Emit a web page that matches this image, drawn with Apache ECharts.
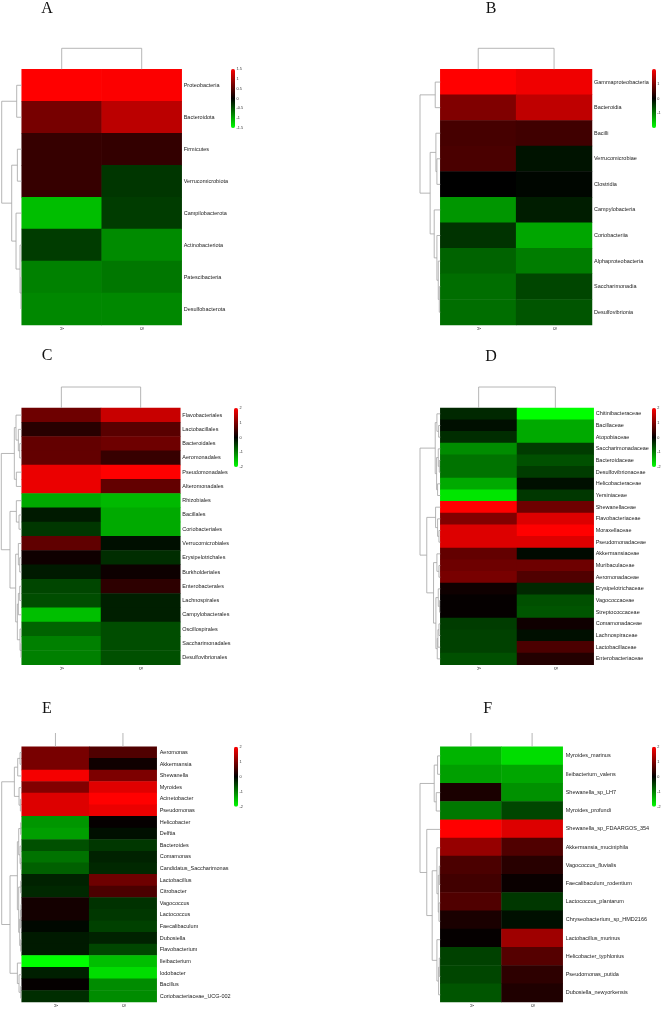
<!DOCTYPE html>
<html><head><meta charset="utf-8">
<script src="https://cdn.jsdelivr.net/npm/echarts@6/dist/echarts.min.js"></script>
<style>html,body{margin:0;padding:0;background:#fff}#c{width:662px;height:1010px}</style>
</head><body><div id="c"></div>
<script>
const samples = ['A', 'B'];

// ---- Panel A (phylum)
const aRows = ['Proteobacteria','Bacteroidota','Firmicutes','Verrucomicrobiota','Campilobacterota','Actinobacteriota','Patescibacteria','Desulfobacterota'];
const aValA = [1.5, 0.7, 0.32, 0.32, -1.12, -0.35, -0.76, -0.8];
const aValB = [1.48, 1.1, 0.3, -0.32, -0.35, -0.82, -0.7, -0.8];
const aRowTree = [[6,7,2],[5,8,5],[4,9,17],[2,3,13],[11,10,30],[0,1,15],[13,12,60]];
const aColTree = [[0,1,21]];
const aTicks = [1.5, 1, 0.5, 0, -0.5, -1, -1.5];

// ---- Panel B (class)
const bRows = ['Gammaproteobacteria','Bacteroidia','Bacilli','Verrucomicrobiae','Clostridia','Campylobacteria','Coriobacteriia','Alphaproteobacteria','Saccharimonadia','Desulfovibrionia'];
const bValA = [2.0, 1.0, 0.55, 0.58, 0.0, -1.18, -0.4, -0.78, -0.86, -0.86];
const bValB = [1.88, 1.5, 0.5, -0.15, -0.05, -0.23, -1.3, -0.98, -0.55, -0.67];
const bRowTree = [[3,4,10],[2,10,13],[8,9,3],[7,12,6],[6,13,10],[5,14,18],[11,15,30],[0,1,15],[17,16,60]];
const bColTree = [[0,1,21]];
const bTicks = [1, 0, -1];

// ---- Panel C (order)
const cRows = ['Flavobacteriales','Lactobacillales','Bacteroidales','Aeromonadales','Pseudomonadales','Alteromonadales','Rhizobiales','Bacillales','Coriobacteriales','Verrucomicrobiales','Erysipelotrichales','Burkholderiales','Enterobacterales','Lachnospirales','Campylobacterales','Oscillospirales','Saccharimonadales','Desulfovibrionales'];
const cValA = [0.86, 0.31, 0.78, 0.78, 1.84, 1.84, -1.33, -0.2, -0.43, 0.75, 0.12, -0.2, -0.55, -0.6, -1.5, -0.78, -1.0, -1.0];
const cValB = [1.57, 0.7, 0.86, 0.43, 2.0, 0.78, -1.45, -1.33, -1.33, -0.12, -0.35, 0.1, 0.35, -0.24, -0.24, -0.6, -0.6, -0.63];
const cRowTree = [[2,3,6],[1,18,10],[0,19,17],[4,5,16],[20,21,22],[7,8,8],[6,23,16],[10,11,6],[9,25,10],[12,13,6],[27,14,10],[16,17,2],[15,29,5],[28,30,13],[26,31,18],[24,32,35],[22,33,61]];
const cColTree = [[0,1,21]];
const cTicks = [2, 1, 0, -1, -2];

// ---- Panel D (family)
const dRows = ['Chitinibacteraceae','Bacillaceae','Atopobiaceae','Saccharimonadaceae','Bacteroidaceae','Desulfovibrionaceae','Helicobacteraceae','Yersiniaceae','Shewanellaceae','Flavobacteriaceae','Moraxellaceae','Pseudomonadaceae','Akkermansiaceae','Muribaculaceae','Aeromonadaceae','Erysipelotrichaceae','Vagococcaceae','Streptococcaceae','Comamonadaceae','Lachnospiraceae','Lactobacillaceae','Enterobacteriaceae'];
const dValA = [-0.31, -0.12, -0.35, -1.1, -0.9, -0.9, -1.33, -1.8, 2.0, 1.02, 1.73, 1.73, 0.78, 0.86, 0.94, 0.12, 0.04, 0.04, -0.47, -0.51, -0.51, -0.63];
const dValB = [-2.0, -1.33, -1.33, -0.47, -0.63, -0.47, -0.12, -0.43, 0.86, 1.73, 2.0, 1.73, -0.08, 0.86, 0.63, -0.31, -0.63, -0.67, 0.12, -0.12, 0.59, 0.27];
const dRowTree = [[1,2,5],[0,22,10],[4,5,3],[3,24,6],[6,7,8],[25,26,11],[23,27,15],[10,11,4],[9,29,8],[8,30,14],[13,14,4],[12,32,10],[16,17,2],[15,34,6],[18,19,4],[36,20,7],[37,21,9],[35,38,13],[33,39,20],[31,40,40],[28,41,60]];
const dColTree = [[0,1,21]];
const dTicks = [2, 1, 0, -1, -2];

// ---- Panel E (genus)
const eRows = ['Aeromonas','Akkermansia','Shewanella','Myroides','Acinetobacter','Pseudomonas','Helicobacter','Delftia','Bacteroides','Comamonas','Candidatus_Saccharimonas','Lactobacillus','Citrobacter','Vagococcus','Lactococcus','Faecalibaculum','Dubosiella','Flavobacterium','Ileibacterium','Iodobacter','Bacillus','Coriobacteriaceae_UCG-002'];
const eValA = [0.94, 0.94, 1.92, 1.02, 1.73, 1.73, -1.18, -1.25, -0.63, -0.9, -0.75, -0.27, -0.31, 0.16, 0.16, -0.06, -0.2, -0.2, -2.0, -0.24, 0.04, -0.35];
const eValB = [0.63, 0.12, 0.98, 1.76, 2.0, 1.84, 0.04, -0.12, -0.43, -0.27, -0.31, 0.86, 0.59, -0.39, -0.43, -0.51, -0.27, -0.55, -1.5, -1.73, -1.1, -1.1];
const eRowTree = [[0,1,5],[22,2,12],[4,5,4],[3,24,8],[23,25,22],[6,7,3],[9,10,2],[8,28,5],[27,29,9],[11,12,3],[13,14,2],[32,15,4],[16,17,3],[33,34,6],[31,35,9],[30,36,13],[20,21,3],[19,38,8],[18,39,13],[37,40,35],[26,41,60]];
const eColTree = [[0,1,40]];
const eTicks = [2, 1, 0, -1, -2];

// ---- Panel F (species)
const fRows = ['Myroides_marinus','Ileibacterium_valens','Shewanella_sp_LH7','Myroides_profundi','Shewanella_sp_FDAARGOS_354','Akkermansia_muciniphila','Vagococcus_fluvialis','Faecalibaculum_rodentium','Lactococcus_plantarum','Chryseobacterium_sp_HMD2166','Lactobacillus_murinus','Helicobacter_typhlonius','Pseudomonas_putida','Dubosiella_newyorkensis'];
const fValA = [-1.41, -1.25, 0.2, -0.94, 2.0, 1.18, 0.59, 0.51, 0.63, 0.2, 0.04, -0.51, -0.55, -0.67];
const fValB = [-1.73, -1.3, -1.14, -0.55, 1.73, 0.63, 0.31, 0.08, -0.43, -0.12, 1.25, 0.67, 0.35, 0.24];
const fRowTree = [[0,1,8],[2,3,12],[14,15,18],[6,7,3],[8,9,4],[17,18,6],[5,19,10],[11,12,3],[21,13,5],[10,22,10],[20,23,24],[4,24,40],[16,25,60]];
const fColTree = [[0,1,40]];
const fTicks = [2, 1, 0, -1, -2];

// ---------- layout (pixels)
const panels = [
  {title:'A', rows:aRows, va:aValA, vb:aValB, tree:aRowTree, ctree:aColTree, ticks:aTicks, range:1.5, step:0.5,
   L:{hx:21.7, hy:69.3, hw:160, hh:255.7, dl:1.7, cy:48.3, cmax:21, bx:231, by:69, bh:59, tx:41.2, ty:1, lm:2}},
  {title:'B', rows:bRows, va:bValA, vb:bValB, tree:bRowTree, ctree:bColTree, ticks:bTicks, range:2, step:1,
   L:{hx:440.3, hy:69.3, hw:151.7, hh:255.7, dl:420, cy:48.3, cmax:21, bx:652, by:69, bh:59, tx:485.7, ty:1, lm:2}},
  {title:'C', rows:cRows, va:cValA, vb:cValB, tree:cRowTree, ctree:cColTree, ticks:cTicks, range:2, step:1,
   L:{hx:21.7, hy:408, hw:158.6, hh:256.7, dl:1.3, cy:387, cmax:21, bx:234, by:408, bh:59, tx:41.7, ty:348, lm:2}},
  {title:'D', rows:dRows, va:dValA, vb:dValB, tree:dRowTree, ctree:dColTree, ticks:dTicks, range:2, step:1,
   L:{hx:440.3, hy:408, hw:153.4, hh:256.7, dl:420, cy:387, cmax:21, bx:652, by:408, bh:59, tx:485.2, ty:349, lm:2}},
  {title:'E', rows:eRows, va:eValA, vb:eValB, tree:eRowTree, ctree:eColTree, ticks:eTicks, range:2, step:1,
   L:{hx:21.7, hy:746.7, hw:135, hh:257.3, dl:1.7, cy:733, cmax:13.7, bx:234, by:746.7, bh:60, tx:42.1, ty:701, lm:3}},
  {title:'F', rows:fRows, va:fValA, vb:fValB, tree:fRowTree, ctree:fColTree, ticks:fTicks, range:2, step:1,
   L:{hx:440.3, hy:746.7, hw:122.4, hh:257.3, dl:420, cy:733, cmax:13.7, bx:652, by:746.7, bh:60, tx:483.3, ty:701, lm:3}}
];

function dendro(n, merges) {
  const pos = [], ht = [], segs = [];
  for (let i = 0; i < n; i++) { pos[i] = i; ht[i] = 0; }
  merges.forEach((m, k) => {
    const [a, b, h] = m, id = n + k;
    segs.push([ht[a], pos[a], h, pos[a]], [h, pos[a], h, pos[b]], [ht[b], pos[b], h, pos[b]]);
    pos[id] = (pos[a] + pos[b]) / 2; ht[id] = h;
  });
  return segs;
}

const LINE = '#a3a3a3';
function renderSeg(params, api) {
  const p1 = api.coord([api.value(0), api.value(1)]);
  const p2 = api.coord([api.value(2), api.value(3)]);
  return {type:'line', shape:{x1:p1[0], y1:p1[1], x2:p2[0], y2:p2[1]}, style:{stroke:LINE, lineWidth:0.8}};
}

const option = {animation:false, backgroundColor:'#fff', title:[], grid:[], xAxis:[], yAxis:[], series:[], visualMap:[]};
const FONT = 'Liberation Sans';

panels.forEach((P, p) => {
  const L = P.L, n = P.rows.length, g = 4 * p;
  const rootH = P.tree[P.tree.length - 1][2];
  option.title.push({text:P.title, left:L.tx, top:L.ty, padding:0,
    textStyle:{fontFamily:'Liberation Serif', fontSize:16, fontWeight:'normal', color:'#111'}});
  // heatmap grid
  option.grid.push({left:L.hx, top:L.hy, width:L.hw, height:L.hh});
  option.xAxis.push({type:'category', gridIndex:g, data:samples, axisLine:{show:false}, axisTick:{show:false},
    axisLabel:{rotate:-90, fontSize:4.5, margin:2, color:'#444', fontFamily:FONT}, splitLine:{show:false}});
  option.yAxis.push({type:'category', gridIndex:g, data:P.rows, inverse:true, position:'right', axisLine:{show:false}, axisTick:{show:false},
    axisLabel:{fontSize:5.5, margin:L.lm, color:'#222', fontFamily:FONT}, splitLine:{show:false}});
  // row dendrogram grid
  option.grid.push({left:L.dl, top:L.hy, width:L.hx - L.dl, height:L.hh});
  option.xAxis.push({type:'value', gridIndex:g+1, min:0, max:rootH, inverse:true, show:false});
  option.yAxis.push({type:'value', gridIndex:g+1, min:-0.5, max:n - 0.5, inverse:true, show:false});
  // column dendrogram grid
  option.grid.push({left:L.hx, top:L.cy, width:L.hw, height:L.hy - L.cy});
  option.xAxis.push({type:'value', gridIndex:g+2, min:-0.5, max:1.5, show:false});
  option.yAxis.push({type:'value', gridIndex:g+2, min:0, max:L.cmax, show:false});
  // colour bar tick axis
  option.grid.push({left:L.bx + 4, top:L.by, width:0.5, height:L.bh});
  option.xAxis.push({type:'value', gridIndex:g+3, show:false});
  option.yAxis.push({type:'value', gridIndex:g+3, min:-P.range, max:P.range, interval:P.step, position:'right',
    axisLine:{show:false}, axisTick:{show:false}, splitLine:{show:false},
    axisLabel:{fontSize:3.8, margin:1, color:'#333', fontFamily:FONT,
      formatter: v => (P.ticks.some(t => Math.abs(t - v) < 1e-9) ? String(v) : '')}});

  const data = [];
  for (let i = 0; i < n; i++) { data.push([0, i, P.va[i]]); data.push([1, i, P.vb[i]]); }
  const si = option.series.length;
  option.series.push({type:'heatmap', xAxisIndex:g, yAxisIndex:g, data:data, itemStyle:{borderWidth:0}, emphasis:{disabled:true}, silent:true});
  option.series.push({type:'custom', xAxisIndex:g+1, yAxisIndex:g+1, data:dendro(n, P.tree), renderItem:renderSeg, silent:true});
  const csegs = [];
  dendro(2, P.ctree).forEach(s => {
    const [h1, p1, h2, p2] = s;
    if (h1 > L.cmax && h2 > L.cmax) return;
    csegs.push([p1, Math.min(h1, L.cmax), p2, Math.min(h2, L.cmax)]);
  });
  option.series.push({type:'custom', xAxisIndex:g+2, yAxisIndex:g+2, data:csegs, renderItem:renderSeg, silent:true});
  option.visualMap.push({type:'continuous', seriesIndex:si, min:-P.range, max:P.range, calculable:false, orient:'vertical',
    left:L.bx, top:L.by, itemWidth:4, itemHeight:L.bh, padding:0, text:null, showLabel:false,
    inRange:{color:['#00ff00', '#000000', '#ff0000']}, hoverLink:false});
});

const chart = echarts.init(document.getElementById('c'), null, {renderer:'canvas'});
chart.setOption(option);
</script></body></html>
